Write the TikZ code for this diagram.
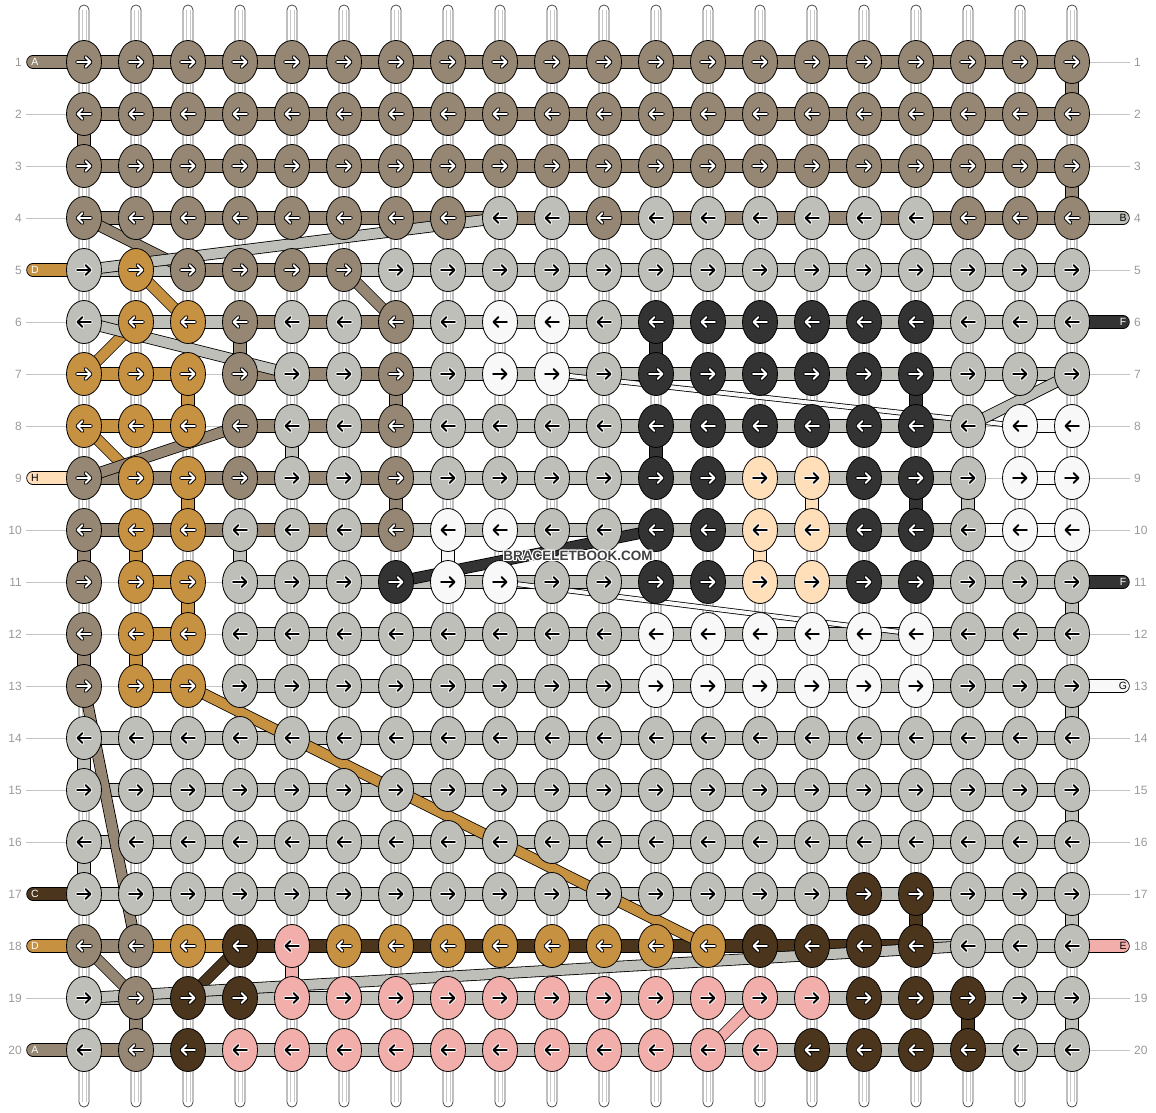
\documentclass[tikz,border=0pt]{standalone}
\usepackage{fontspec}
\setmainfont{Liberation Sans}
\definecolor{ka}{HTML}{958773}
\definecolor{kb}{HTML}{BFBFB9}
\definecolor{kd}{HTML}{C79142}
\definecolor{kf}{HTML}{333333}
\definecolor{kg}{HTML}{F8F8F8}
\definecolor{kh}{HTML}{FFDFBA}
\definecolor{kc}{HTML}{4B351D}
\definecolor{ke}{HTML}{F2AEAB}
\colorlet{ta}{white}\colorlet{ha}{black}
\colorlet{td}{white}\colorlet{hd}{black}
\colorlet{tf}{white}\colorlet{hf}{black}
\colorlet{tc}{white}\colorlet{hc}{black}
\colorlet{tb}{black}\colorlet{hb}{white}
\colorlet{tg}{black}\colorlet{hg}{white}
\colorlet{th}{black}\colorlet{hh}{white}
\colorlet{te}{black}\colorlet{he}{white}
\definecolor{labc}{HTML}{9A9A9A}
\definecolor{rowl}{HTML}{C4C4C4}
\begin{document}
\begin{tikzpicture}[x=1pt,y=-1pt,
  lbl/.style={text=labc,font=\fontsize{12}{14}\selectfont,inner sep=0pt},
  pilltext/.style={font=\fontsize{10.5}{12}\selectfont,inner sep=0pt},
  knot/.style={draw=black,line width=0.8},
  outl/.style={black,line width=13.4},
  band/.style={line width=11.8}]
\useasboundingbox (0,0) rectangle (1156,1112);
\fill[white] (0,0) rectangle (1156,1112);
% knot positions
\foreach \i in {1,...,20}{\foreach \j in {1,...,20}{
  \coordinate (k-\i-\j) at ({84+52*(\j-1)},{62+52*(\i-1)});}}
% vertical strings
\foreach \j in {1,...,20}{
  \coordinate (st-\j) at ({84+52*(\j-1)},5);
  \coordinate (sb-\j) at ({84+52*(\j-1)},1107);
  \draw[fill=white,draw=black!70,line width=0.8,rounded corners=4.9] ([xshift=-5pt]st-\j) rectangle ([xshift=5pt]sb-\j);
  \draw[black!22,line width=0.6] ([xshift=-2pt,yshift=-5pt]st-\j) -- ([xshift=-2pt,yshift=5pt]sb-\j)
     ([xshift=2pt,yshift=-5pt]st-\j) -- ([xshift=2pt,yshift=5pt]sb-\j);
}
% row guide lines
\foreach \i in {1,...,20}{
  \draw[rowl,line width=0.8] ([xshift=-58pt]k-\i-1) -- ([xshift=58pt]k-\i-20);
}
% horizontal bars
\foreach \i/\lst in {
 1/{a,a,a,a,a,a,a,a,a,a,a,a,a,a,a,a,a,a,a},
 2/{a,a,a,a,a,a,a,a,a,a,a,a,a,a,a,a,a,a,a},
 3/{a,a,a,a,a,a,a,a,a,a,a,a,a,a,a,a,a,a,a},
 4/{a,a,a,a,a,a,a,a,a,a,a,a,a,a,a,a,a,a,a},
 5/{b,b,a,a,a,b,b,b,b,b,b,b,b,b,b,b,b,b,b},
 6/{b,b,b,a,a,a,b,b,b,b,b,b,b,b,b,b,b,b,b},
 7/{d,d,n,a,a,a,b,b,b,b,b,b,b,b,b,b,b,b,b},
 8/{d,d,n,a,a,a,b,b,b,b,b,b,b,b,b,b,b,n,g},
 9/{a,a,a,a,a,a,b,b,b,b,b,b,b,b,b,b,b,n,g},
 10/{a,a,a,a,a,a,b,b,b,b,b,b,b,b,b,b,b,g,g},
 11/{n,d,n,b,b,b,b,b,b,b,b,b,b,b,b,b,b,b,b},
 12/{n,d,n,b,b,b,b,b,b,b,b,b,b,b,b,b,b,b,b},
 13/{n,d,n,b,b,b,b,b,b,b,b,b,b,b,b,b,b,b,b},
 14/{b,b,b,b,b,b,b,b,b,b,b,b,b,b,b,b,b,b,b},
 15/{b,b,b,b,b,b,b,b,b,b,b,b,b,b,b,b,b,b,b},
 16/{b,b,b,b,b,b,b,b,b,b,b,b,b,b,b,b,b,b,b},
 17/{b,b,b,b,b,b,b,b,b,b,b,b,b,b,b,b,b,b,b},
 18/{a,d,d,c,c,c,c,c,c,c,c,c,c,c,c,c,b,b,b},
 19/{b,b,b,b,b,b,b,b,b,b,b,b,b,b,b,b,b,b,b},
 20/{a,b,b,b,b,b,b,b,b,b,b,b,b,b,b,b,b,b,b}}{
  \foreach \c [count=\j] in \lst {
    \pgfmathtruncatemacro\jn{\j+1}
    \if n\c\else
      \draw[outl] (k-\i-\j) -- (k-\i-\jn);
      \draw[band,k\c] (k-\i-\j) -- (k-\i-\jn);
    \fi
  }
}
% vertical connectors
\foreach \j/\i/\c in {1/2/a,1/10/a,1/12/a,1/14/b,1/16/b,
  20/1/a,20/3/a,20/11/b,20/13/b,20/15/b,20/17/b,20/19/b,
  3/7/d,3/9/d,2/10/d,3/11/d,2/12/d,4/6/a,7/7/a,7/9/a,
  12/6/f,12/8/f,17/7/f,17/9/f,15/9/h,14/10/h,18/9/b,4/10/b,5/8/b,8/10/g,
  5/18/e,2/19/a,17/17/c,18/19/c}{
  \pgfmathtruncatemacro\ii{\i+1}
  \draw[outl] (k-\i-\j) -- (k-\ii-\j);
  \draw[band,k\c] (k-\i-\j) -- (k-\ii-\j);
}
% edge strings, left
\foreach \i/\c/\t in {1/a/A,5/d/D,9/h/H,17/c/C,18/d/D,20/a/A}{
  \draw[outl,line cap=round] ([xshift=-51pt]k-\i-1) -- (k-\i-1);
  \draw[band,k\c,line cap=round] ([xshift=-51pt]k-\i-1) -- (k-\i-1);
  \node[pilltext,text=t\c] (pl-\i) at ([xshift=-49pt]k-\i-1) {\t};
}
% edge strings, right
\foreach \i/\c/\t in {4/b/B,6/f/F,11/f/F,13/g/G,18/e/E}{
  \draw[outl,line cap=round] (k-\i-20) -- ([xshift=51pt]k-\i-20);
  \draw[band,k\c,line cap=round] (k-\i-20) -- ([xshift=51pt]k-\i-20);
  \node[pilltext,text=t\c] (pr-\i) at ([xshift=51pt]k-\i-20) {\t};
}
% diagonal strands
\foreach \c/\ia/\ja/\ib/\jb/\w in {
  a/4/1/5/3/10, b/5/1/4/9/10, a/5/6/6/7/10, d/5/2/6/3/10, d/6/2/7/1/10,
  b/6/1/7/5/10, d/8/1/9/2/10, a/9/1/8/4/10, a/13/1/18/2/10, a/18/1/19/2/10,
  c/18/4/19/3/10, b/19/1/18/18/10, d/13/3/18/13/10, e/19/14/20/13/10,
  f/11/7/10/12/10, g/7/10/8/19/4, g/11/9/12/17/4, b/7/20/8/18/10}{
  \pgfmathsetmacro\wo{\w+1.6}
  \draw[black,line width=\wo] (k-\ia-\ja) -- (k-\ib-\jb);
  \draw[k\c,line width=\w] (k-\ia-\ja) -- (k-\ib-\jb);
}
% knots
\foreach \i/\lst in {
 1/{a,a,a,a,a,a,a,a,a,a,a,a,a,a,a,a,a,a,a,a},
 2/{a,a,a,a,a,a,a,a,a,a,a,a,a,a,a,a,a,a,a,a},
 3/{a,a,a,a,a,a,a,a,a,a,a,a,a,a,a,a,a,a,a,a},
 4/{a,a,a,a,a,a,a,a,b,b,a,b,b,b,b,b,b,a,a,a},
 5/{b,d,a,a,a,a,b,b,b,b,b,b,b,b,b,b,b,b,b,b},
 6/{b,d,d,a,b,b,a,b,g,g,b,f,f,f,f,f,f,b,b,b},
 7/{d,d,d,a,b,b,a,b,g,g,b,f,f,f,f,f,f,b,b,b},
 8/{d,d,d,a,b,b,a,b,b,b,b,f,f,f,f,f,f,b,g,g},
 9/{a,d,d,a,b,b,a,b,b,b,b,f,f,h,h,f,f,b,g,g},
 10/{a,d,d,b,b,b,a,g,g,b,b,f,f,h,h,f,f,b,g,g},
 11/{a,d,d,b,b,b,f,g,g,b,b,f,f,h,h,f,f,b,b,b},
 12/{a,d,d,b,b,b,b,b,b,b,b,g,g,g,g,g,g,b,b,b},
 13/{a,d,d,b,b,b,b,b,b,b,b,g,g,g,g,g,g,b,b,b},
 14/{b,b,b,b,b,b,b,b,b,b,b,b,b,b,b,b,b,b,b,b},
 15/{b,b,b,b,b,b,b,b,b,b,b,b,b,b,b,b,b,b,b,b},
 16/{b,b,b,b,b,b,b,b,b,b,b,b,b,b,b,b,b,b,b,b},
 17/{b,b,b,b,b,b,b,b,b,b,b,b,b,b,b,c,c,b,b,b},
 18/{a,a,d,c,e,d,d,d,d,d,d,d,d,c,c,c,c,b,b,b},
 19/{b,a,c,c,e,e,e,e,e,e,e,e,e,e,e,c,c,c,b,b},
 20/{b,a,c,e,e,e,e,e,e,e,e,e,e,e,c,c,c,c,b,b}}{
  \pgfmathsetmacro\dir{mod(\i,2)==1?1:-1}
  \foreach \c [count=\j] in \lst {
    \draw[knot,fill=k\c] (k-\i-\j) ellipse [x radius=17.5,y radius=21.5];
    \begin{scope}[shift={(k-\i-\j)},xscale=\dir]
      \draw[h\c,line width=3.9,line cap=round,line join=round] (-7,0) -- (6.5,0) (1.5,-5) -- (6.5,0) -- (1.5,5);
      \draw[t\c,line width=1.9,line cap=round,line join=round] (-7,0) -- (6.5,0) (1.5,-5) -- (6.5,0) -- (1.5,5);
    \end{scope}
  }
}
% row numbers
\foreach \i in {1,...,20}{
  \node[lbl,anchor=east] (ln-\i) at ([xshift=-62pt]k-\i-1) {\i};
  \node[lbl,anchor=west] (rn-\i) at ([xshift=62pt]k-\i-20) {\i};
}
% watermark
\foreach \dx/\dy in {-1/0,1/0,0/-1,0/1,-1/-1,1/1,-1/1,1/-1}{
  \node[font=\bfseries\fontsize{13.5}{14}\selectfont,text=white] at (578+\dx,556+\dy) {BRACELETBOOK.COM};
}
\node[font=\bfseries\fontsize{13.5}{14}\selectfont,text=black!75] (wm) at (578,556) {BRACELETBOOK.COM};
\end{tikzpicture}
\end{document}
